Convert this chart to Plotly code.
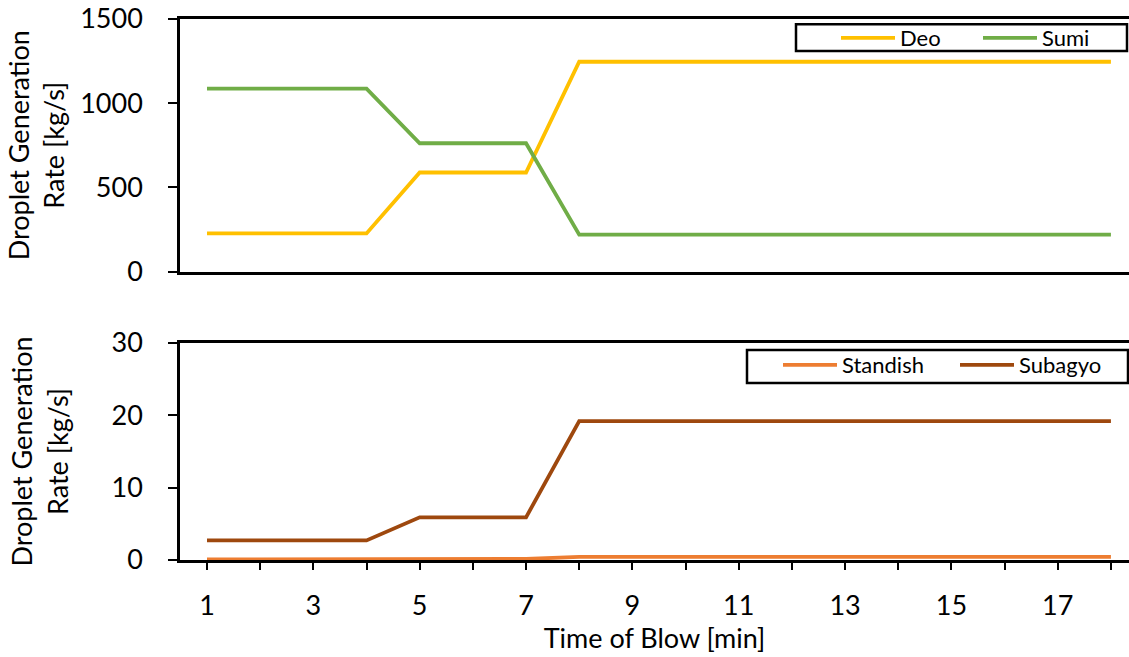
import plotly.graph_objects as go
from plotly.subplots import make_subplots

time_min = list(range(1, 19))
deo = [226]*4 + [588]*3 + [1246]*11
sumi = [1086]*4 + [762]*3 + [219]*11
standish = [0.08]*4 + [0.15]*3 + [0.42]*11
subagyo = [2.7]*4 + [5.9]*3 + [19.2]*11

W, H = 1129, 657
ML, MR, MT, MB = 180, 0, 19, 97
PW, PH = W - ML - MR, H - MT - MB

def px_x(p):
    return (p - ML) / PW

def px_y(p):
    return (H - MB - p) / PH

FONT = "Lato"
fig = make_subplots(rows=2, cols=1, shared_xaxes=False, vertical_spacing=0.0)

fig.add_trace(go.Scatter(x=time_min, y=deo, name="Deo", mode="lines",
                         line=dict(color="#FFC000", width=3.8), legend="legend"), row=1, col=1)
fig.add_trace(go.Scatter(x=time_min, y=sumi, name="Sumi", mode="lines",
                         line=dict(color="#70AD47", width=3.8), legend="legend2"), row=1, col=1)
fig.add_trace(go.Scatter(x=time_min, y=standish, name="Standish", mode="lines",
                         line=dict(color="#ED7D31", width=3.8), legend="legend3"), row=2, col=1)
fig.add_trace(go.Scatter(x=time_min, y=subagyo, name="Subagyo", mode="lines",
                         line=dict(color="#9E480E", width=3.8), legend="legend4"), row=2, col=1)

xr = [0.492, 18.34]
axis_common = dict(showline=True, linecolor="black", linewidth=2.5, showgrid=False, zeroline=False)

def leg(xp, yp):
    return dict(orientation="h", x=px_x(xp), y=px_y(yp), xanchor="left", yanchor="top",
                bgcolor="rgba(0,0,0,0)", borderwidth=0, font=dict(family=FONT, size=22),
                itemwidth=54)

fig.update_layout(
    width=W, height=H,
    margin=dict(l=ML, r=MR, t=MT, b=MB),
    paper_bgcolor="white", plot_bgcolor="white",
    font=dict(family=FONT, size=27, color="black"),
    xaxis=dict(domain=[0, 1], range=xr, mirror=True, showticklabels=False, ticks="",
               anchor="y", **axis_common),
    yaxis=dict(domain=[px_y(271.5), px_y(19)], range=[0, 1500], tickvals=[0, 500, 1000, 1500],
               ticks="outside", ticklen=9, tickwidth=2, tickcolor="black", ticklabelstandoff=20,
               title=dict(text="Droplet Generation<br>Rate [kg/s]", standoff=8, font=dict(size=27)),
               anchor="x", **axis_common),
    xaxis2=dict(domain=[0, 1], range=xr, mirror=True, tickmode="linear", tick0=1, dtick=2,
                ticks="outside", ticklen=7, tickwidth=1.5, tickcolor="black", ticklabelstandoff=13,
                minor=dict(dtick=1, tick0=1, ticks="outside", ticklen=7, tickwidth=1.5, tickcolor="black"),
                title=dict(text="Time of Blow [min]", standoff=6, font=dict(size=27)),
                anchor="y2", **axis_common),
    yaxis2=dict(domain=[px_y(560), px_y(343)], range=[0, 30], tickvals=[0, 10, 20, 30],
                ticks="outside", ticklen=9, tickwidth=2, tickcolor="black", ticklabelstandoff=20,
                title=dict(text="Droplet Generation<br>Rate [kg/s]", standoff=36, font=dict(size=27)),
                anchor="x2", **axis_common),
    legend=leg(836, 17),
    legend2=leg(978, 17),
    legend3=leg(778, 344),
    legend4=leg(955, 344),
    showlegend=True,
    shapes=[
        dict(type="rect", xref="paper", yref="paper", x0=px_x(796), x1=px_x(1127),
             y0=px_y(51), y1=px_y(24.3), line=dict(color="black", width=2.5)),
        dict(type="rect", xref="paper", yref="paper", x0=px_x(747), x1=px_x(1128),
             y0=px_y(383), y1=px_y(350), line=dict(color="black", width=2.5)),
    ],
)

fig.write_html("out.html")
